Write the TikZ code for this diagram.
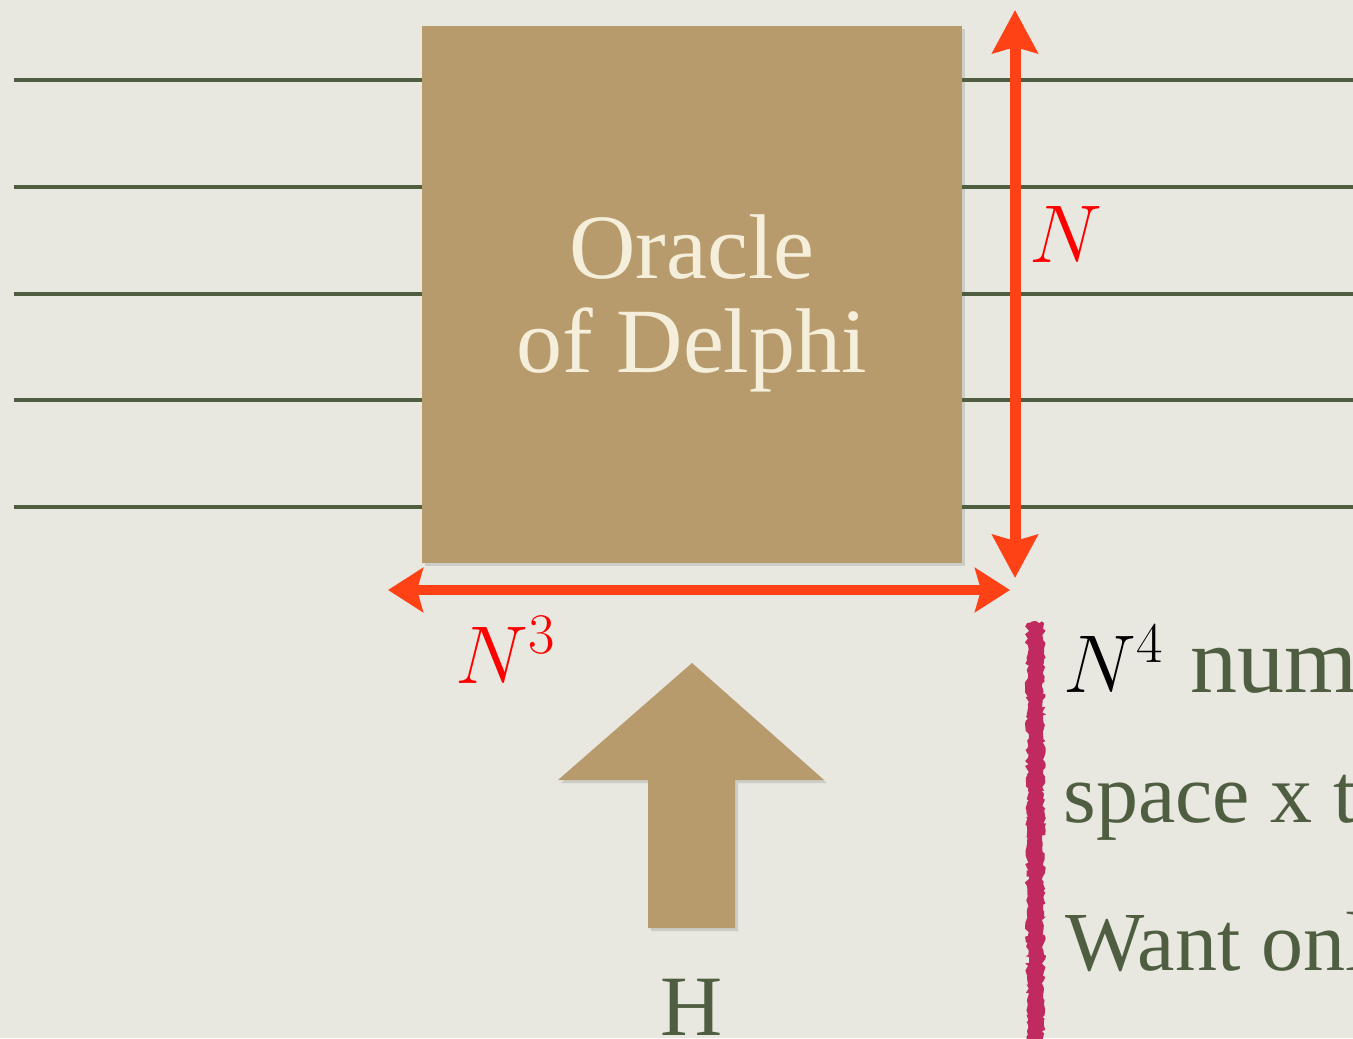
\RequirePackage{fix-cm}
\documentclass[tikz,border=0pt]{standalone}
\usepackage{fontspec}
\newfontfamily\tms{Liberation Serif}
\usetikzlibrary{arrows.meta,shadows,decorations.pathmorphing}
\definecolor{bgc}{HTML}{E8E7E0}
\definecolor{boxtan}{HTML}{B89B6C}
\definecolor{lgreen}{HTML}{4F5E40}
\definecolor{dimred}{HTML}{FF4216}
\definecolor{lblred}{HTML}{FF0000}
\definecolor{cream}{HTML}{F4EEDA}
\definecolor{pinkc}{HTML}{C02A5E}
\begin{document}
\begin{tikzpicture}[x=0.5pt,y=-0.5pt,
  wire/.style={draw=lgreen, line width=2pt},
  vdim/.style={draw=dimred, line width=5.5pt,
    {Stealth[length=21.5pt,width=22.5pt,inset=3pt]}-{Stealth[length=21.5pt,width=22.5pt,inset=3pt]}},
  hdim/.style={draw=dimred, line width=5pt,
    {Stealth[length=17.5pt,width=22pt,inset=3pt]}-{Stealth[length=17.5pt,width=22pt,inset=3pt]}},
  shade/.style={drop shadow={opacity=0.25, shadow xshift=1.5pt, shadow yshift=-1.5pt}},
  oraclebox/.style={rectangle, fill=boxtan, minimum width=270pt, minimum height=268.5pt, inner sep=0pt, shade},
  txt/.style={inner sep=0pt},
  oracletxt/.style={txt, anchor=base, text=cream, font=\tms\fontsize{46}{46}\selectfont},
  mathlbl/.style={txt, anchor=base west, text=lblred, font=\fontsize{41}{41}\selectfont},
  bodytxt/.style={txt, anchor=base west, text=lgreen, font=\tms\fontsize{42}{42}\selectfont},
  pinkbar/.style={fill=pinkc, decorate,
    decoration={random steps, segment length=1.5pt, amplitude=1.1pt}}
]
\useasboundingbox (0,0) rectangle (1353,1038);
\clip (0,0) rectangle (1353,1038);
\fill[bgc] (0,0) rectangle (1353,1038);

% oracle box
\node[oraclebox] (box) at (692,294.5) {};
\node[oracletxt] (or1) at (692,278) {Oracle};
\node[oracletxt] (or2) at (692,372) {of Delphi};

% wires
\foreach \i/\yy in {1/80,2/187,3/294,4/400,5/507}{
  \coordinate (la\i) at (14,\yy);
  \coordinate (rb\i) at (1360,\yy);
  \draw[wire] (la\i) -- (box.west |- la\i);
  \draw[wire] (box.east |- rb\i) -- (rb\i);
}

% dimension arrows
\coordinate (vt) at (1015,10);
\coordinate (vb) at (1015,578);
\draw[vdim] (vt) -- (vb);
\coordinate (hl) at (388,590);
\coordinate (hr) at (1010,590);
\draw[hdim] (hl) -- (hr);

\node[mathlbl] (nlab) at (1029,262) {$N$};
\node[mathlbl] (n3lab) at (455,683) {$N^3$};

% input arrow
\fill[boxtan, shade] (692,663) -- (824,780) -- (735,780) -- (735,928)
  -- (648,928) -- (648,780) -- (558,780) -- cycle;
\node[txt, anchor=base, text=lgreen, font=\tms\fontsize{43}{43}\selectfont] (hlab) at (692,1035) {H};

% side bar and notes
\path[pinkbar] (1027,623) rectangle (1044,1050);

\node[txt, anchor=base west, font=\fontsize{41}{41}\selectfont] (t1m) at (1063,692) {$N^4$};
\node[bodytxt, font=\tms\fontsize{47}{47}\selectfont] (t1) at (1190,692) {num};
\node[bodytxt] (t2) at (1063,822) {space x t};
\node[bodytxt] (t3) at (1065,970) {Want onl};
\end{tikzpicture}
\end{document}
